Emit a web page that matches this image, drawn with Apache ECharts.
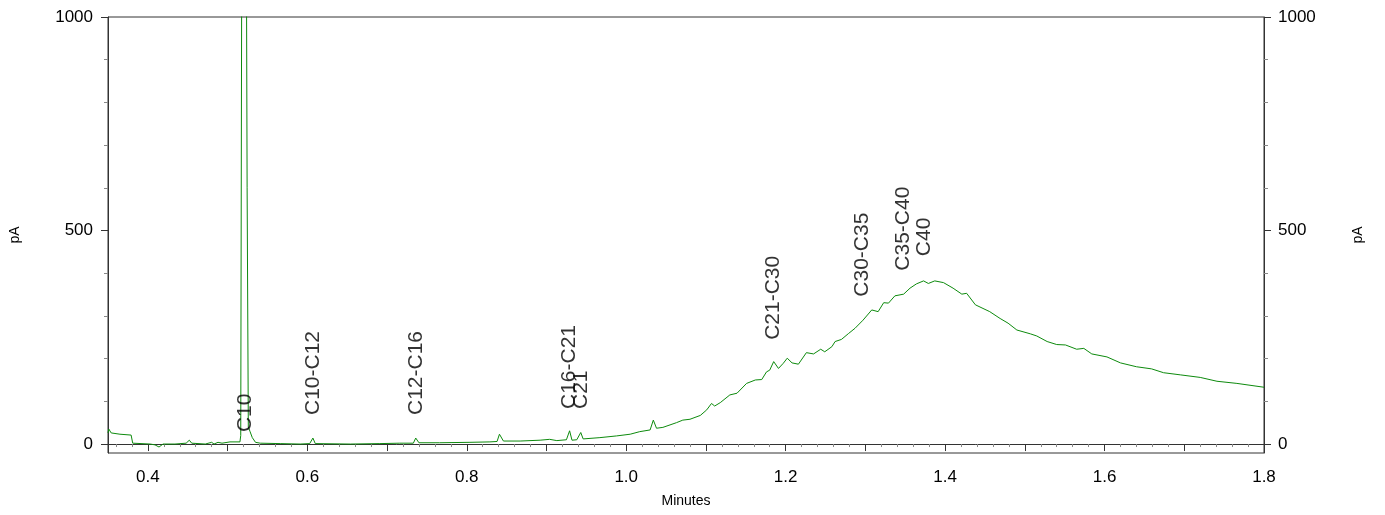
<!DOCTYPE html>
<html>
<head>
<meta charset="utf-8">
<script src="https://cdn.jsdelivr.net/npm/echarts@6/dist/echarts.min.js"></script>
<style>
  html, body { margin: 0; padding: 0; background: #fff; }
  #chart { width: 1385px; height: 515px; }
</style>
</head>
<body>
<div id="chart"></div>
<script>
// retention time (minutes) and detector signal (pA)
var timeMin = [
    0.350, 0.351, 0.354, 0.365, 0.379, 0.381, 0.403, 0.409, 0.414, 0.419,
    0.434, 0.448, 0.452, 0.455, 0.472, 0.480, 0.483, 0.488, 0.493, 0.503,
    0.5155, 0.5165, 0.5185, 0.5205, 0.5245, 0.526, 0.528, 0.531, 0.535, 0.541,
    0.566, 0.591, 0.603, 0.607, 0.610, 0.654, 0.691, 0.716, 0.733, 0.736,
    0.740, 0.766, 0.804, 0.829, 0.838, 0.841, 0.846, 0.867, 0.892, 0.904,
    0.913, 0.925, 0.929, 0.932, 0.938, 0.943, 0.946, 0.967, 0.988, 1.005,
    1.017, 1.030, 1.034, 1.038, 1.046, 1.063, 1.071, 1.080, 1.093, 1.101,
    1.107, 1.111, 1.118, 1.130, 1.139, 1.151, 1.162, 1.170, 1.176, 1.180,
    1.185, 1.191, 1.197, 1.202, 1.208, 1.216, 1.226, 1.235, 1.244, 1.249,
    1.258, 1.262, 1.270, 1.279, 1.287, 1.297, 1.308, 1.316, 1.323, 1.329,
    1.337, 1.348, 1.356, 1.364, 1.373, 1.379, 1.387, 1.398, 1.410, 1.421,
    1.427, 1.438, 1.456, 1.469, 1.479, 1.490, 1.507, 1.515, 1.528, 1.540,
    1.551, 1.565, 1.574, 1.584, 1.603, 1.620, 1.640, 1.659, 1.674, 1.695,
    1.720, 1.741, 1.766, 1.800
];
var signalPA = [
    26, 35, 26, 23, 21, 2, 0, -2, -7, 0,
    0, 2, 9, 2, 0, 4, 0, 4, 2, 5,
    5, 20, 1800, 3000, 600, 40, 30, 15, 4, 2,
    1, 0, 1, 14, 1, 0, 1, 2, 2, 14,
    3, 3, 4, 5, 6, 23, 7, 7, 9, 11,
    8, 10, 31, 9, 10, 27, 12, 15, 19, 23,
    29, 33, 56, 37, 39, 50, 56, 58, 67, 80,
    95, 89, 97, 115, 119, 142, 150, 151, 169, 173,
    193, 177, 189, 201, 190, 187, 214, 211, 222, 216,
    228, 240, 245, 259, 271, 290, 314, 310, 331, 330,
    347, 351, 365, 375, 382, 376, 382, 378, 365, 351,
    353, 326, 310, 294, 283, 267, 258, 253, 240, 233,
    232, 222, 224, 211, 204, 190, 181, 176, 167, 162,
    156, 147, 142, 133
];

// peak group annotations: text, time, signal at the foot of the text
var peakNames = ['C10', 'C10-C12', 'C12-C16', 'C16-C21', 'C21', 'C21-C30', 'C30-C35', 'C35-C40', 'C40'];
var peakTime = [0.522, 0.607, 0.736, 0.929, 0.944, 1.184, 1.296, 1.348, 1.374];
var peakFoot = [28, 68, 68, 82, 82, 244, 345, 406, 440];

// axis ticks
var xMajorTicks = [0.4, 0.5, 0.6, 0.7, 0.8, 0.9, 1.0, 1.1, 1.2, 1.3, 1.4, 1.5, 1.6, 1.7, 1.8];
var xLabels = [0.4, 0.6, 0.8, 1.0, 1.2, 1.4, 1.6, 1.8];
var yLabels = [0, 500, 1000];
var yMinorTicks = [100, 200, 300, 400, 600, 700, 800, 900];

var xMinorTicks = [];
for (let i = 18; i <= 90; i++) {
    if (i % 5 !== 0) xMinorTicks.push(+(i * 0.02).toFixed(2));
}

var FONT = 'Liberation Sans, Arial, sans-serif';
var AXIS_COLOR = '#333';

var chart = echarts.init(document.getElementById('chart'));

function xFmt(v) {
    return v.toFixed(1);
}
function yFmt(v) {
    return String(v);
}

var xBase = {
    type: 'value',
    min: 0.35,
    max: 1.8,
    position: 'bottom',
    splitLine: { show: false }
};
var yBase = {
    type: 'value',
    min: -21,
    max: 1000,
    splitLine: { show: false }
};

var option = {
    animation: false,
    grid: {
        left: 108, right: 121, top: 17, bottom: 62,
        show: true, borderColor: AXIS_COLOR, borderWidth: 1
    },
    xAxis: [
        Object.assign({}, xBase, {
            name: 'Minutes',
            nameLocation: 'middle',
            nameGap: 41,
            nameTextStyle: { fontFamily: FONT, fontSize: 14, color: '#000' },
            axisLine: { lineStyle: { color: AXIS_COLOR } },
            axisTick: { show: true, length: 7, customValues: xMajorTicks, lineStyle: { color: AXIS_COLOR } },
            axisLabel: {
                customValues: xLabels, margin: 16, formatter: xFmt,
                fontFamily: FONT, fontSize: 17, color: '#000'
            }
        }),
        Object.assign({}, xBase, {
            axisLine: { show: false },
            axisTick: { show: true, length: 3, customValues: xMinorTicks, lineStyle: { color: '#888' } },
            axisLabel: { show: false }
        })
    ],
    yAxis: [
        Object.assign({}, yBase, {
            position: 'left',
            name: 'pA',
            nameLocation: 'middle',
            nameRotate: 90,
            nameGap: 86,
            nameTextStyle: { fontFamily: FONT, fontSize: 14, color: '#000' },
            axisLine: { show: true, lineStyle: { color: AXIS_COLOR } },
            axisTick: { show: true, length: 7, customValues: yLabels, lineStyle: { color: AXIS_COLOR } },
            axisLabel: { customValues: yLabels, formatter: yFmt, margin: 15, fontFamily: FONT, fontSize: 17, color: '#000' }
        }),
        Object.assign({}, yBase, {
            position: 'left',
            axisLine: { show: false },
            axisTick: { show: true, length: 4, customValues: yMinorTicks, lineStyle: { color: '#888' } },
            axisLabel: { show: false }
        }),
        Object.assign({}, yBase, {
            position: 'right',
            name: 'pA',
            nameLocation: 'middle',
            nameRotate: 90,
            nameGap: 87,
            nameTextStyle: { fontFamily: FONT, fontSize: 14, color: '#000' },
            axisLine: { show: true, lineStyle: { color: AXIS_COLOR } },
            axisTick: { show: true, length: 7, customValues: yLabels, lineStyle: { color: AXIS_COLOR } },
            axisLabel: { customValues: yLabels, formatter: yFmt, margin: 14, fontFamily: FONT, fontSize: 17, color: '#000' }
        }),
        Object.assign({}, yBase, {
            position: 'right',
            axisLine: { show: false },
            axisTick: { show: true, length: 4, customValues: yMinorTicks, lineStyle: { color: '#888' } },
            axisLabel: { show: false }
        })
    ],
    series: [
        {
            name: 'FID',
            type: 'line',
            data: timeMin.map(function (t, i) { return [t, signalPA[i]]; }),
            showSymbol: false,
            clip: true,
            lineStyle: { color: '#0d8a0d', width: 1 },
            itemStyle: { color: '#0d8a0d' }
        },
        {
            name: 'Peaks',
            type: 'scatter',
            data: peakNames.map(function (n, i) { return { name: n, value: [peakTime[i], peakFoot[i]] }; }),
            symbolSize: 1,
            itemStyle: { color: 'rgba(0,0,0,0)' },
            label: {
                show: true,
                formatter: '{b}',
                position: 'inside',
                rotate: 90,
                align: 'left',
                verticalAlign: 'middle',
                fontFamily: FONT,
                fontSize: 21,
                color: '#000',
                textBorderWidth: 0
            },
            z: 5
        }
    ]
};

chart.setOption(option);
</script>
</body>
</html>
